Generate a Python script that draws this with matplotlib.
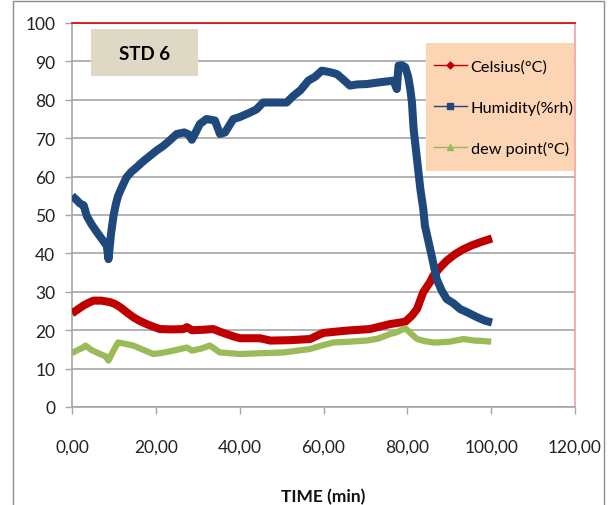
import numpy as np
import matplotlib
matplotlib.use('Agg')
import matplotlib.pyplot as plt
from matplotlib.lines import Line2D
from matplotlib.patches import Rectangle

# Data
t_hum = [0, 1, 1.9, 2.8, 3.5, 4.7, 5.9, 7.1, 8.3, 8.7, 9.3, 9.9, 10.5, 11,
         12, 13, 14.2, 15.4, 17, 18.6, 20.2, 21.8, 23.4, 25, 26.8, 27.8,
         28.6, 29.5, 30.5, 32.1, 34.1, 35.3, 36.5, 38.5, 40, 42.5, 44,
         45.6, 48, 51.2, 52.8, 54.5, 56.4, 58, 59.6, 61.5, 63.2, 65, 66.3,
         68, 70.3, 73, 76.7, 77.5, 77.9, 78.7, 79.5, 80.2, 80.7, 81.1,
         81.5, 82.3, 83.1, 83.8, 84.2, 85.8, 87, 88.2, 89.4, 91, 92.6,
         94.6, 96.6, 98.5, 100.2]
humidity = [55, 54, 53, 52.5, 49.8, 47.5, 45.6, 43.8, 42, 38.5, 45, 49.8,
            53, 55, 57.5, 59.8, 61.3, 62.4, 64, 65.4, 66.8, 68, 69.5, 71.1,
            71.5, 71, 69.6, 71.5, 73.7, 75, 74.6, 71.1, 71.5, 75, 75.5,
            76.7, 77.5, 79.3, 79.3, 79.3, 81, 82.5, 85, 86, 87.6, 87.2,
            86.7, 85, 83.7, 84, 84.1, 84.5, 85, 82.8, 88.9, 89, 88.5, 86,
            82.8, 79.3, 72.4, 64.6, 56.8, 51.6, 47.2, 39.4, 33.3, 30.3,
            28.1, 27, 25.5, 24.5, 23.4, 22.5, 22]

t_cel = [0, 0.3, 1.5, 2.7, 3.9, 5.1, 7, 9.1, 10.3, 11.5, 13, 14.6, 16.2,
         17.8, 19.4, 21, 24, 26.6, 27.4, 28.6, 31, 33.7, 35.3, 36.9, 38.5,
         40.1, 44.9, 47.3, 52, 56.8, 58.5, 60, 65.6, 71.1, 75.9, 79.5,
         81.1, 82.3, 83.8, 85.4, 86.2, 87.8, 89.4, 91.4, 93.4, 95.4, 97.4,
         100.2]
celsius = [24.4, 24.6, 25.5, 26.4, 27.1, 27.7, 27.7, 27.3, 26.8, 26, 24.7,
           23.4, 22.4, 21.6, 20.9, 20.3, 20.2, 20.3, 20.8, 20, 20.1, 20.3,
           19.6, 19, 18.4, 17.9, 17.9, 17.3, 17.4, 17.7, 18.6, 19.3, 19.9,
           20.3, 21.6, 22.2, 23.8, 25.5, 29.9, 32.5, 34.2, 36.3, 38.1,
           39.8, 41.1, 42.1, 42.9, 43.9]

t_dew = [0, 0.3, 1.5, 2.7, 3.2, 4.7, 6.7, 8.0, 8.7, 9.8, 11, 12.5, 14.6,
         17, 19.4, 21, 23.4, 25.5, 27.4, 28.6, 30.8, 32.9, 35.3, 40.1,
         44.9, 50.4, 56.8, 59.5, 62.4, 66, 70.3, 73, 75.9, 77.5, 79.5,
         80.8, 82.3, 84, 86.2, 87, 90, 93.4, 96, 98, 100]
dew = [14, 14.2, 14.9, 15.5, 16, 14.8, 13.8, 13.2, 12.1, 14.5, 16.8, 16.5,
       16, 14.9, 13.8, 14, 14.5, 15, 15.5, 14.7, 15.2, 16, 14.2, 13.8, 14,
       14.2, 15.1, 16, 16.8, 17, 17.3, 17.8, 19, 19.5, 20.5, 19.2, 17.7,
       17.2, 16.8, 16.8, 17, 17.7, 17.3, 17.2, 17]

x_ticks = [0, 20, 40, 60, 80, 100, 120]
y_ticks = [0, 10, 20, 30, 40, 50, 60, 70, 80, 90, 100]

red = '#c00000'
blue = '#1f497d'
green = '#9bbb59'

plt.rcParams['font.family'] = ['Lato', 'DejaVu Sans']

fig = plt.figure(figsize=(6.12, 5.06), dpi=100)
ax = fig.add_axes([72/612, 1-408/506, (575-72)/612, (408-24)/506])

ax.plot(t_cel, celsius, color=red, lw=5.8, solid_capstyle='butt', zorder=3)
ax.plot(t_hum, humidity, color=blue, lw=5.8, solid_capstyle='butt',
        zorder=4)
ax.plot(t_dew, dew, color=green, lw=4.5, solid_capstyle='butt', zorder=5)

ax.set_xlim(0, 120)
ax.set_ylim(0, 100)
ax.set_xticks(x_ticks)
ax.set_xticklabels([('%.2f' % v).replace('.', ',') for v in x_ticks])
ax.set_yticks(y_ticks)
ax.yaxis.grid(True, color='#a6a6a6', lw=1.2)
ax.set_axisbelow(True)
ax.tick_params(axis='both', direction='out', color='#a6a6a6', length=5,
               width=1, labelsize=12.5, labelcolor='#222222')
ax.tick_params(axis='x', pad=18)
ax.tick_params(axis='y', pad=7)
ax.spines['left'].set_color('#a6a6a6')
ax.spines['bottom'].set_color('#a6a6a6')
ax.spines['top'].set_color('#dd0000')
ax.spines['right'].set_color('#f4a0a0')
for s in ax.spines.values():
    s.set_linewidth(1.2)
ax.set_xlabel('TIME (min)', fontsize=12.5, fontweight='bold', labelpad=24,
              color='#111111')

# STD 6 box
fig.patches.append(Rectangle((91/612, 1-77/506), 107/612, 47/506,
                             transform=fig.transFigure, facecolor='#ddd9c4',
                             edgecolor='none', zorder=5))
fig.text(145/612, 1-54/506, 'STD 6', fontsize=13.5, fontweight='bold',
         ha='center', va='center', zorder=6)

# legend (background drawn separately)
ax.add_patch(Rectangle((426/612, 1-172/506), 148/612, 128/506,
                       transform=fig.transFigure, facecolor='#fcd5b5',
                       edgecolor='none', zorder=9, clip_on=False))
handles = [Line2D([], [], color=red, lw=1, marker='D', markersize=3.5),
           Line2D([], [], color=blue, lw=1, marker='s', markersize=5),
           Line2D([], [], color=green, lw=1, marker='^', markersize=5)]
labels = ['Celsius(°C)', 'Humidity(%rh)', 'dew point(°C)']
leg = ax.legend(handles, labels, loc='upper left',
                bbox_to_anchor=(434/612, 1-60/506),
                bbox_transform=fig.transFigure,
                frameon=False, fontsize=11.7,
                handlelength=2.0, labelspacing=1.62, borderpad=0,
                handletextpad=0.25, borderaxespad=0)
leg.set_zorder(10)

# outer chart border
fig.patches.append(Rectangle((13/612, -0.05), (604-13)/612, 1.05-2/506,
                             transform=fig.transFigure, facecolor='none',
                             edgecolor='#8c8c8c', lw=1))

fig.savefig('out.png', dpi=100)
